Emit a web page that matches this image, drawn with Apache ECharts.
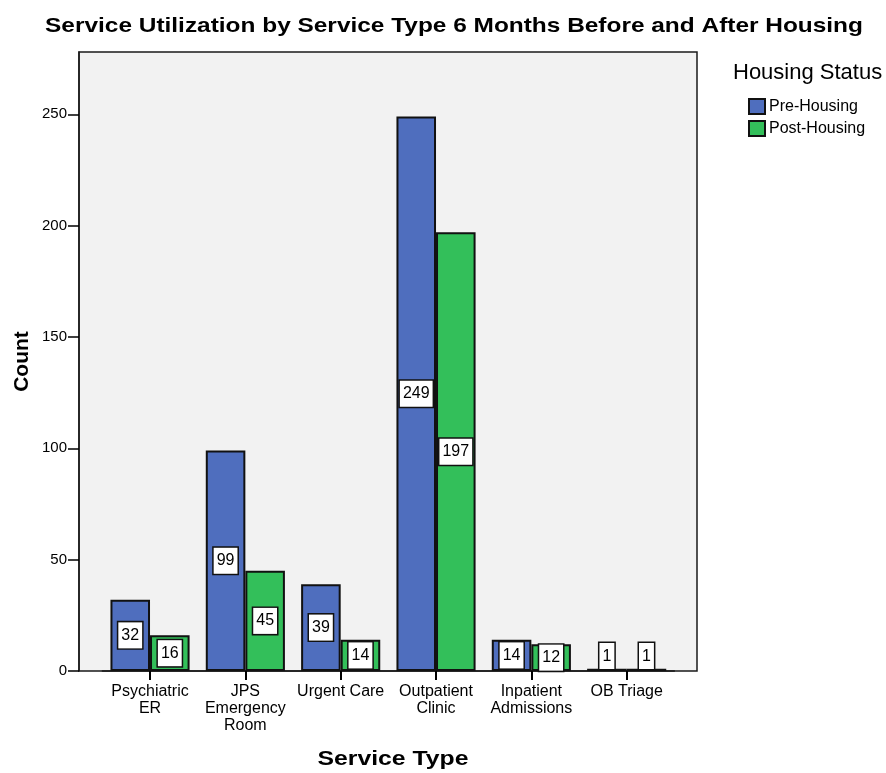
<!DOCTYPE html>
<html><head><meta charset="utf-8">
<script src="https://cdn.jsdelivr.net/npm/echarts@6/dist/echarts.min.js"></script>
<style>html,body{margin:0;padding:0;background:#fff}#c{width:886px;height:773px}</style>
</head><body><div id="c"></div>
<script>
const categories = ['Psychiatric\nER', 'JPS\nEmergency\nRoom', 'Urgent Care', 'Outpatient\nClinic', 'Inpatient\nAdmissions', 'OB Triage'];
const preHousing = [32, 99, 39, 249, 14, 1];
const postHousing = [16, 45, 14, 197, 12, 1];
const yTicks = [0, 50, 100, 150, 200, 250];
const seriesNames = ['Pre-Housing', 'Post-Housing'];

const FONT = 'Liberation Sans, Arial, sans-serif';
const chart = echarts.init(document.getElementById('c'));
const lbl = {
  show: true, position: 'inside', color: '#000', fontSize: 16, lineHeight: 17, fontFamily: FONT,
  backgroundColor: '#fff', borderColor: '#111', borderWidth: 1.5, padding: [5, 3, 4, 3]
};
function toData(arr) {
  return arr.map(v => v < 5 ? { value: v, label: { position: 'insideBottom', distance: 2 } } : v);
}
chart.setOption({
  animation: false,
  textStyle: { fontFamily: FONT },
  legend: {
    orient: 'vertical', left: 743, top: 93, itemWidth: 16, itemHeight: 15, itemGap: 5, icon: 'rect',
    textStyle: { fontSize: 16, color: '#000', padding: [0, 0, 0, -1] },
    data: seriesNames
  },
  graphic: [
    { type: 'text', x: 454, y: 16, scaleX: 1.163,
      style: { text: 'Service Utilization by Service Type 6 Months Before and After Housing', fontSize: 21, fontWeight: 'bold', fill: '#000', fontFamily: FONT, align: 'center', verticalAlign: 'top' } },
    { type: 'text', x: 393, y: 749, scaleX: 1.18,
      style: { text: 'Service Type', fontSize: 21, fontWeight: 'bold', fill: '#000', fontFamily: FONT, align: 'center', verticalAlign: 'top' } },
    { type: 'text', left: 733, top: 62,
      style: { text: 'Housing Status', fontSize: 22, fill: '#000', fontFamily: FONT } }
  ],
  grid: [
    { left: 79, right: 189, top: 52, bottom: 102, show: true, backgroundColor: '#f2f2f2', borderColor: '#1a1a1a', borderWidth: 1.5 },
    { left: 102.35, right: 211.65, top: 52, bottom: 102 }
  ],
  xAxis: [
    { gridIndex: 0, type: 'value', show: false, min: 0, max: 1 },
    { gridIndex: 1, type: 'category', data: categories,
      axisLine: { show: true, lineStyle: { color: '#1a1a1a', width: 1.5 } },
      axisTick: { show: true, alignWithLabel: true, interval: 0, length: 9, lineStyle: { color: '#000', width: 2 } },
      axisLabel: { interval: 0, fontSize: 16, color: '#000', lineHeight: 17, margin: 12 } }
  ],
  yAxis: [
    { gridIndex: 0, type: 'value', show: false, min: 0, max: 1 },
    { gridIndex: 1, type: 'value', min: 0, max: 278, interval: 50, offset: 23.35,
      name: 'Count', nameLocation: 'middle', nameGap: 46, nameMoveOverlap: false,
      nameTextStyle: { fontSize: 21, fontWeight: 'bold', color: '#000' },
      axisLine: { show: true, lineStyle: { color: '#1a1a1a', width: 1.5 } },
      axisTick: { show: true, length: 11, customValues: yTicks, lineStyle: { color: '#000', width: 1.5 } },
      axisLabel: { fontSize: 15, color: '#000', margin: 12, customValues: yTicks },
      splitLine: { show: false } }
  ],
  series: [
    { name: seriesNames[0], type: 'bar', xAxisIndex: 1, yAxisIndex: 1, data: toData(preHousing), barGap: '0%', barCategoryGap: '17%',
      itemStyle: { color: '#4f6ebe', borderColor: '#111', borderWidth: 2 }, label: lbl },
    { name: seriesNames[1], type: 'bar', xAxisIndex: 1, yAxisIndex: 1, data: toData(postHousing),
      itemStyle: { color: '#33bf5a', borderColor: '#111', borderWidth: 2 }, label: lbl }
  ]
});
</script></body></html>
